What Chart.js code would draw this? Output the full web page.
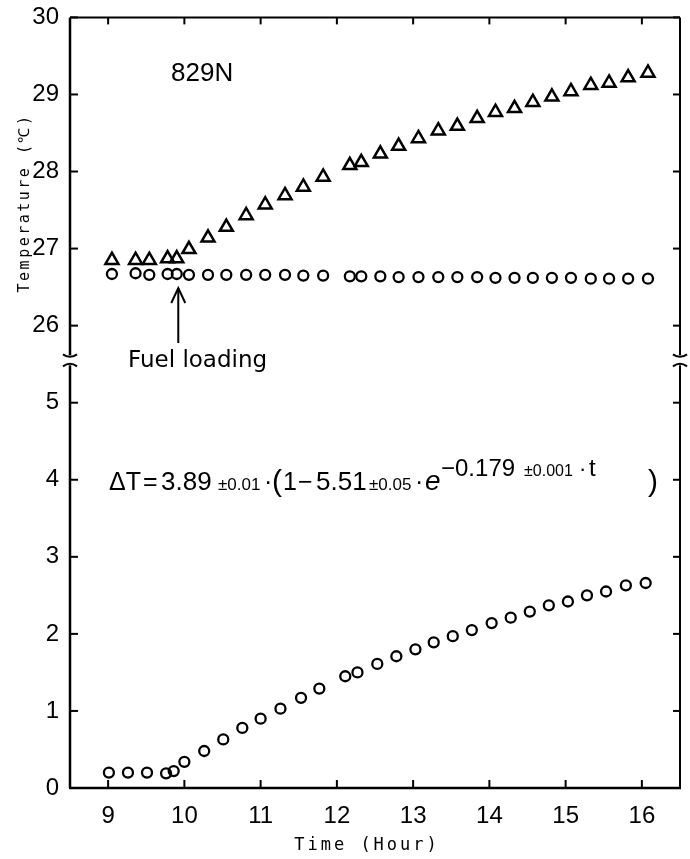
<!DOCTYPE html>
<html>
<head>
<meta charset="utf-8">
<script src="https://cdn.jsdelivr.net/npm/chart.js@4.4.1/dist/chart.umd.min.js"></script>
<style>
  html, body { margin: 0; padding: 0; background: #fff; }
  #wrap { width: 690px; height: 859px; position: relative; }
</style>
</head>
<body>
<div id="wrap"><canvas id="chart"></canvas></div>
<script>
// upper panel: temperature (°C), triangles and circles
const upperTimes = [9.05, 9.36, 9.54, 9.78, 9.9, 10.06, 10.31, 10.55, 10.81, 11.06, 11.32, 11.56, 11.82,
  12.17, 12.32, 12.57, 12.81, 13.07, 13.33, 13.58, 13.84, 14.08, 14.33, 14.57, 14.82, 15.07, 15.33, 15.57, 15.82, 16.08];
const triangleTemp = [26.85, 26.85, 26.85, 26.87, 26.87, 26.99, 27.14, 27.28, 27.43, 27.57, 27.69, 27.80, 27.93,
  28.08, 28.12, 28.23, 28.33, 28.43, 28.53, 28.59, 28.69, 28.77, 28.82, 28.90, 28.97, 29.04, 29.12, 29.15, 29.22, 29.28];
const circleTemp = [26.67, 26.68, 26.66, 26.67, 26.67, 26.66, 26.66, 26.66, 26.66, 26.66, 26.66, 26.65, 26.65,
  26.64, 26.64, 26.64, 26.63, 26.63, 26.63, 26.63, 26.63, 26.62, 26.62, 26.62, 26.62, 26.62, 26.61, 26.61, 26.61, 26.61];

// lower panel: temperature difference
const lowerTimes = [9.01, 9.26, 9.51, 9.76, 9.86, 10.0, 10.26, 10.51, 10.76, 11.0, 11.26, 11.53, 11.77,
  12.11, 12.27, 12.53, 12.78, 13.03, 13.27, 13.52, 13.77, 14.03, 14.28, 14.53, 14.78, 15.03, 15.28, 15.53, 15.79, 16.05];
const deltaT = [0.20, 0.20, 0.20, 0.19, 0.22, 0.34, 0.48, 0.63, 0.78, 0.90, 1.03, 1.17, 1.29,
  1.45, 1.50, 1.61, 1.71, 1.80, 1.89, 1.97, 2.05, 2.14, 2.21, 2.29, 2.37, 2.42, 2.50, 2.55, 2.63, 2.66];

const xTicks = [9, 10, 11, 12, 13, 14, 15, 16];
const yTickValues = [0, 1, 2, 3, 4, 5, 6, 7, 8, 9, 10];
const yTickLabels = ['0', '1', '2', '3', '4', '5', '26', '27', '28', '29', '30'];

// broken axis: 26 °C sits where 6 would be
const upperOffset = 20;
const axisBreak = 5.55;

const toPts = (xs, ys, off) => xs.map((t, i) => ({ x: t, y: ys[i] - off }));

const numFont = { family: 'Liberation Sans', size: 24 };

const decor = {
  id: 'decor',
  afterDraw(chart) {
    const { ctx, chartArea: { left, right, top, bottom }, scales: { x, y } } = chart;
    ctx.save();
    ctx.strokeStyle = '#000';
    ctx.fillStyle = '#000';
    const yb = y.getPixelForValue(axisBreak);

    const line = (x1, y1, x2, y2, w) => {
      ctx.lineWidth = w;
      ctx.beginPath(); ctx.moveTo(x1, y1); ctx.lineTo(x2, y2); ctx.stroke();
    };

    // frame, with the axis break on both sides
    line(left - 1, bottom, right + 1, bottom, 2.5);
    line(left, top, right, top, 2);
    line(left, top, left, yb - 5, 2.5);
    line(left, yb + 5, left, bottom, 2.5);
    line(right, top, right, yb - 5, 2);
    line(right, yb + 5, right, bottom, 2);

    // break marks
    [left, right].forEach(ax => {
      ctx.lineWidth = 2;
      ctx.beginPath();
      ctx.moveTo(ax - 7, yb - 6);
      ctx.quadraticCurveTo(ax, yb - 1, ax + 7, yb - 6);
      ctx.stroke();
      ctx.beginPath();
      ctx.moveTo(ax - 7, yb + 6);
      ctx.quadraticCurveTo(ax, yb + 1, ax + 7, yb + 6);
      ctx.stroke();
    });

    // inward ticks on all four sides
    xTicks.forEach(v => {
      const px = x.getPixelForValue(v);
      line(px, bottom, px, bottom - 8, 2);
      line(px, top, px, top + 7, 2);
    });
    yTickValues.forEach(v => {
      const py = y.getPixelForValue(v);
      line(left, py, left + 8, py, 2);
      line(right, py, right - 7, py, 2);
    });

    // axis titles
    ctx.letterSpacing = '3px';
    ctx.font = '17px "DejaVu Sans Mono"';
    ctx.textAlign = 'center';
    ctx.textBaseline = 'middle';
    ctx.fillText('Time (Hour)', (left + right) / 2 - 8, 846);
    ctx.save();
    ctx.letterSpacing = '2.5px';
    ctx.font = '15px "DejaVu Sans Mono"';
    ctx.translate(25, 203);
    ctx.rotate(-Math.PI / 2);
    ctx.fillText('Temperature (℃)', 0, 0);
    ctx.restore();
    ctx.letterSpacing = '0px';

    // labels
    ctx.textAlign = 'left';
    ctx.textBaseline = 'alphabetic';
    ctx.font = '26px "Liberation Sans"';
    ctx.fillText('829N', 171, 81);
    ctx.font = '23px "DejaVu Sans"';
    ctx.fillText('Fuel loading', 128, 367);

    // arrow to the fuel loading time
    const ax = x.getPixelForValue(9.92);
    line(ax, 288, ax, 343, 2);
    ctx.beginPath();
    ctx.moveTo(ax - 7, 303); ctx.lineTo(ax, 288); ctx.lineTo(ax + 7, 303);
    ctx.stroke();

    // fitted equation
    const base = 490;
    const eq = [
      ['ΔT', 109, 0, 25, ''],
      ['=', 143, 0, 25, ''],
      ['3.89', 161, 0, 26, ''],
      ['±0.01', 218, 0, 17, ''],
      ['·', 264, 0, 25, ''],
      ['(', 272, 1, 30, ''],
      ['1', 283, 0, 25, ''],
      ['−', 298, 0, 25, ''],
      ['5.51', 316, 0, 26, ''],
      ['±0.05', 369, 0, 17, ''],
      ['·', 415, 0, 25, ''],
      ['e', 425, 0, 28, 'italic '],
      ['−0.179', 441, -14, 24, ''],
      ['±0.001', 524, -14, 16, ''],
      ['·', 579, -14, 22, ''],
      ['t', 589, -14, 24, ''],
      [')', 648, 1, 30, '']
    ];
    eq.forEach(([txt, px, dy, size, style]) => {
      ctx.font = style + size + 'px "Liberation Sans"';
      ctx.fillText(txt, px, base + dy);
    });
    ctx.restore();
  }
};

const marker = (style, r, w) => ({
  pointStyle: style,
  pointRadius: r,
  borderWidth: w,
  borderColor: '#000',
  backgroundColor: 'rgba(0,0,0,0)'
});

new Chart(document.getElementById('chart'), {
  type: 'scatter',
  data: {
    datasets: [
      Object.assign({ label: 'Temperature (triangles)', data: toPts(upperTimes, triangleTemp, upperOffset) },
        marker('triangle', 7.5, 2.5)),
      Object.assign({ label: 'Temperature (circles)', data: toPts(upperTimes, circleTemp, upperOffset) },
        marker('circle', 5, 2.3)),
      Object.assign({ label: 'ΔT', data: toPts(lowerTimes, deltaT, 0) },
        marker('circle', 5, 2.3))
    ]
  },
  options: {
    responsive: true,
    maintainAspectRatio: false,
    animation: false,
    devicePixelRatio: 1,
    layout: { padding: { top: 15, right: 2, left: 0, bottom: 0 } },
    plugins: {
      legend: { display: false },
      tooltip: { enabled: false }
    },
    scales: {
      x: {
        type: 'linear',
        min: 8.5,
        max: 16.5,
        grid: { display: false },
        border: { display: false },
        afterBuildTicks: s => { s.ticks = xTicks.map(v => ({ value: v })); },
        afterFit: s => { s.height = 71; },
        ticks: { font: numFont, color: '#000', padding: 6, maxRotation: 0, autoSkip: false }
      },
      y: {
        type: 'linear',
        min: 0,
        max: 10,
        grid: { display: false },
        border: { display: false },
        afterBuildTicks: s => { s.ticks = yTickValues.map(v => ({ value: v })); },
        afterFit: s => { s.width = 70; },
        ticks: {
          font: numFont,
          color: '#000',
          padding: 3,
          autoSkip: false,
          callback: v => yTickLabels[yTickValues.indexOf(v)]
        }
      }
    }
  },
  plugins: [decor]
});
</script>
</body>
</html>
